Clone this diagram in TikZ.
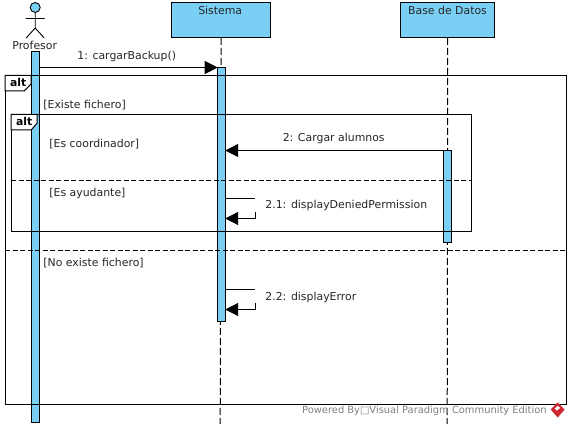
\documentclass[tikz,border=0pt]{standalone}
\usepackage{fontspec}
\setmainfont{DejaVu Sans}
\usetikzlibrary{arrows.meta}
\definecolor{lifefill}{RGB}{122,207,245}
\definecolor{vpred}{RGB}{206,41,48}
\tikzset{
  x=1pt,y=-1pt,
  lbl/.style={inner sep=0pt,anchor=west,font=\fontsize{10.9pt}{12pt}\selectfont,text=black!85},
  headbox/.style={draw=black,fill=lifefill,line width=1pt},
  actbar/.style={draw=black,fill=lifefill,line width=0.9pt},
  lifeline/.style={draw=black,line width=1pt,dash pattern=on 7pt off 3pt},
  framebox/.style={draw=black,line width=1pt},
  divider/.style={draw=black,line width=0.9pt,dash pattern=on 5pt off 2.5pt},
  msg/.style={draw=black,line width=1pt,-{Triangle[length=13pt,width=13pt]}},
  plainline/.style={draw=black,line width=1pt},
  tabtxt/.style={inner sep=0pt,font=\fontsize{10.8pt}{12pt}\selectfont\bfseries}
}
\begin{document}
\begin{tikzpicture}
\useasboundingbox (0,0) rectangle (570,427);
\fill[white] (0,0) rectangle (570,427);
\begin{scope}[xshift=-0.3pt,yshift=0pt]
\coordinate (sisEnd) at (220.5,424);
\coordinate (bdEnd) at (447.5,424);
\node[headbox,minimum width=99pt,minimum height=34.5pt,inner sep=0pt,anchor=north west] (sis) at (171.5,2.5) {};
\node[headbox,minimum width=94pt,minimum height=34.5pt,inner sep=0pt,anchor=north west] (bd) at (400.5,2.5) {};
\node[lbl,anchor=center] (sisT) at (220.5,10) {Sistema};
\node[lbl,anchor=center] (bdT) at (447.8,10) {Base de Datos};
\draw[lifeline] (sis.south) -- (sisEnd);
\draw[lifeline] (bd.south) -- (bdEnd);
\node[actbar,minimum width=8pt,minimum height=370.5pt,inner sep=0pt,anchor=north west] (actP) at (31.5,51.5) {};
\node[actbar,minimum width=8pt,minimum height=254pt,inner sep=0pt,anchor=north west] (actS) at (217.5,67.5) {};
\node[actbar,minimum width=8pt,minimum height=92pt,inner sep=0pt,anchor=north west] (actB) at (443.5,150.5) {};
\draw[line width=0.9pt,fill=lifefill] (35.5,7.5) circle (5);
\draw[line width=0.9pt] (35.5,12.5) -- (35.5,28) (26,18.5) -- (45,18.5) (26.5,38) -- (35.5,28) -- (44.5,38);
\node[lbl,anchor=center] (actor) at (35,45) {Profesor};
\node[framebox,minimum width=561pt,minimum height=328pt,inner sep=0pt,anchor=north west] (outer) at (5.5,75.5) {};
\node[framebox,minimum width=460pt,minimum height=117pt,inner sep=0pt,anchor=north west] (inner) at (11.5,114.5) {};
\draw[framebox,fill=white] (5.5,75.5) -- (31.5,75.5) -- (31.5,84) -- (24.5,91) -- (5.5,91) -- cycle;
\draw[framebox,fill=white] (11.5,114.5) -- (37.5,114.5) -- (37.5,123) -- (31.5,130) -- (11.5,130) -- cycle;
\node[tabtxt,anchor=center] (alt1) at (18.5,82.5) {alt};
\node[tabtxt,anchor=center] (alt2) at (24.5,121.5) {alt};
\coordinate (d1a) at (11.5,180.5); \coordinate (d1b) at (471.5,180.5);
\coordinate (d2a) at (5.5,250.5); \coordinate (d2b) at (566.5,250.5);
\draw[divider] (d1a) -- (d1b);
\draw[divider] (d2a) -- (d2b);
\node[lbl] (g1) at (43.5,105) {[Existe fichero]};
\node[lbl] (g2) at (49.5,144) {[Es coordinador]};
\node[lbl] (g3) at (49.5,193.5) {[Es ayudante]};
\node[lbl] (g4) at (43.5,263.5) {[No existe fichero]};
\coordinate (m1a) at (39.5,67.5); \coordinate (m1b) at (218,67.5);
\coordinate (m2a) at (443.5,150.5); \coordinate (m2b) at (225.5,150.5);
\draw[msg] (m1a) -- (m1b);
\draw[msg] (m2a) -- (m2b);
\node[lbl,anchor=center] (t1) at (127,56) {1: cargarBackup()};
\node[lbl,anchor=center] (t2) at (334,138.5) {2: Cargar alumnos};
\coordinate (s1a) at (225.5,198.5); \coordinate (s1b) at (255,198.5);
\coordinate (s1c) at (255.5,212); \coordinate (s1d) at (255.5,218.5); \coordinate (s1e) at (225.5,218.5);
\draw[plainline] (s1a) -- (s1b);
\draw[msg] (s1c) -- (s1d) -- (s1e);
\node[lbl] (t3) at (265.5,205.5) {2.1: displayDeniedPermission};
\coordinate (s2a) at (225.5,289.5); \coordinate (s2b) at (255,289.5);
\coordinate (s2c) at (255.5,303); \coordinate (s2d) at (255.5,309.5); \coordinate (s2e) at (225.5,309.5);
\draw[plainline] (s2a) -- (s2b);
\draw[msg] (s2c) -- (s2d) -- (s2e);
\node[lbl] (t4) at (265.5,297) {2.2: displayError};
\node[lbl,text=black!50,anchor=west,font=\fontsize{9.9pt}{12pt}\selectfont] (foot) at (302.3,411) {Powered By□Visual Paradigm Community Edition};
\fill[vpred] (558,402.5) -- (565,409.5) -- (558,417.5) -- (551,409.5) -- cycle;
\fill[white] (558,406) -- (560.5,408) -- (557,410.5) -- (555,408.5) -- cycle;
\end{scope}
\end{tikzpicture}
\end{document}
